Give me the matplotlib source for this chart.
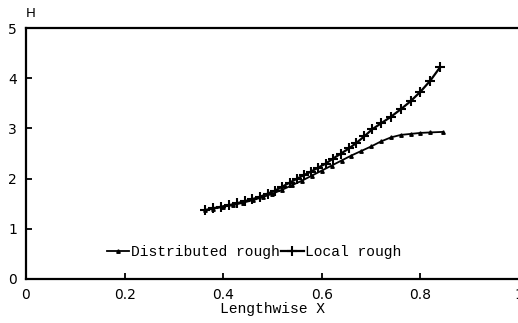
import matplotlib
matplotlib.use('Agg')
import matplotlib.pyplot as plt

# Local rough (+ markers)
x_local = [0.363, 0.380, 0.396, 0.412, 0.428, 0.444, 0.459, 0.475, 0.490, 0.505,
           0.520, 0.535, 0.550, 0.564, 0.578, 0.593, 0.608, 0.623, 0.639, 0.655,
           0.670, 0.686, 0.702, 0.720, 0.740, 0.760, 0.780, 0.800, 0.820, 0.840]
h_local = [1.37, 1.41, 1.44, 1.47, 1.51, 1.55, 1.59, 1.64, 1.70, 1.76,
           1.84, 1.92, 2.00, 2.07, 2.14, 2.22, 2.30, 2.40, 2.50, 2.60,
           2.71, 2.84, 2.98, 3.10, 3.23, 3.38, 3.54, 3.73, 3.95, 4.22]

# Distributed rough (small triangle markers)
x_dist = [0.363, 0.38, 0.40, 0.42, 0.44, 0.46, 0.48, 0.50, 0.52, 0.54, 0.56, 0.58,
          0.60, 0.62, 0.64, 0.66, 0.68, 0.70, 0.72, 0.74, 0.76, 0.78, 0.80, 0.82, 0.845]
h_dist = [1.37, 1.40, 1.44, 1.47, 1.52, 1.57, 1.63, 1.70, 1.78, 1.87, 1.96, 2.06,
          2.16, 2.26, 2.36, 2.46, 2.55, 2.64, 2.74, 2.82, 2.87, 2.89, 2.91, 2.92, 2.93]

x_ticks = [0, 0.2, 0.4, 0.6, 0.8, 1]
x_ticklabels = ['0', '0.2', '0.4', '0.6', '0.8', '1']
y_ticks = [0, 1, 2, 3, 4, 5]

mono = 'Liberation Mono'

fig = plt.figure(figsize=(5.18, 3.23), dpi=100)
ax = fig.add_axes([26/518, 44/323, 493/518, 251/323])

ax.plot(x_dist, h_dist, color='black', lw=1.3, marker='^', ms=2.5,
        label='Distributed rough')
ax.plot(x_local, h_local, color='black', lw=1.6, marker='+', ms=6.5, mew=1.5,
        label='Local rough')

ax.set_xlim(0, 1)
ax.set_ylim(0, 5)
ax.set_xticks(x_ticks)
ax.set_xticklabels(x_ticklabels)
ax.set_yticks(y_ticks)
ax.tick_params(direction='in', length=4, width=1.3, labelsize=10, pad=6.5)

ax.spines['right'].set_visible(False)
for s in ['left', 'bottom', 'top']:
    ax.spines[s].set_linewidth(1.6)

ax.set_xlabel('Lengthwise X', fontfamily=mono, fontsize=10.5, labelpad=0)
ax.text(0.0, 1.03, 'H', transform=ax.transAxes, fontsize=9.5, ha='left', va='bottom')

ax.legend(loc='center left', bbox_to_anchor=(0.164, 0.108), ncol=2, frameon=False,
          prop={'family': mono, 'size': 10.5}, handlelength=1.55,
          handletextpad=0.1, columnspacing=0.1, borderpad=0, borderaxespad=0)

fig.savefig('out.png', dpi=100)
